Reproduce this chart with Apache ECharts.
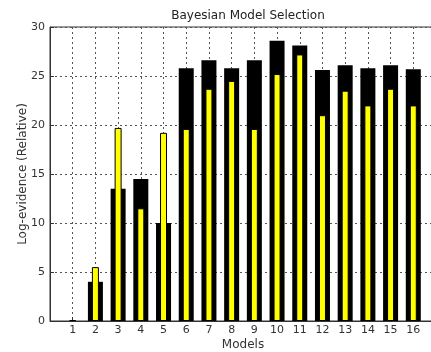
<!DOCTYPE html>
<html>
<head>
<meta charset="utf-8">
<script src="https://cdn.jsdelivr.net/npm/echarts@6/dist/echarts.min.js"></script>
<style>
  html, body { margin: 0; padding: 0; background: #fff; }
  #chart { width: 431px; height: 352px; }
</style>
</head>
<body>
<div id="chart"></div>
<script>
// Model indices and their relative log-evidence from two fits
const models = [1, 2, 3, 4, 5, 6, 7, 8, 9, 10, 11, 12, 13, 14, 15, 16];
const evidenceA = [0, 4.0, 13.5, 14.5, 10.0, 25.8, 26.6, 25.8, 26.6, 28.6, 28.1, 25.6, 26.1, 25.8, 26.1, 25.7];
const evidenceB = [0.1, 5.5, 19.7, 11.5, 19.2, 19.6, 23.7, 24.5, 19.6, 25.2, 27.2, 21.0, 23.5, 22.0, 23.7, 22.0];
const yTicks = [0, 5, 10, 15, 20, 25, 30];

const font = 'DejaVu Sans';
const chart = echarts.init(document.getElementById('chart'));

chart.setOption({
  animation: false,
  backgroundColor: '#fff',
  title: {
    text: 'Bayesian Model Selection',
    left: 243,
    textAlign: 'center',
    top: 5,
    textStyle: { fontFamily: font, fontSize: 12, fontWeight: 'normal', color: '#222' }
  },
  grid: {
    left: 50, right: -5, top: 27, bottom: 31,
    outerBoundsMode: 'none',
    containLabel: false,
    show: true, borderColor: '#333', borderWidth: 1, backgroundColor: 'transparent'
  },
  xAxis: [
    {
      type: 'value',
      min: 0, max: 17, interval: 1,
      name: 'Models',
      nameLocation: 'middle',
      nameGap: 18,
      nameMoveOverlap: false,
      nameTextStyle: { fontFamily: font, fontSize: 12, color: '#333' },
      axisLine: { lineStyle: { color: '#333' } },
      axisTick: { inside: true, length: 4, lineStyle: { color: '#333' } },
      axisLabel: {
        fontFamily: font, fontSize: 11, color: '#333', margin: 4,
        formatter: v => (models.indexOf(v) >= 0 ? String(v) : '')
      },
      splitLine: { show: true, lineStyle: { color: '#555', type: [2, 3], width: 1 } }
    },
    // second, hidden copy of the same scale so the narrow bars sit centred on the wide ones
    { type: 'value', min: 0, max: 17, interval: 1, show: false }
  ],
  yAxis: {
    type: 'value',
    min: yTicks[0], max: yTicks[yTicks.length - 1], interval: 5,
    name: 'Log-evidence (Relative)',
    nameLocation: 'middle',
    nameGap: 21,
    nameMoveOverlap: false,
    nameTextStyle: { fontFamily: font, fontSize: 12, color: '#333' },
    axisLine: { show: true, lineStyle: { color: '#333' } },
    axisTick: { show: true, inside: true, length: 4, lineStyle: { color: '#333' } },
    axisLabel: { fontFamily: font, fontSize: 11, color: '#333', margin: 5 },
    splitLine: { show: true, lineStyle: { color: '#555', type: [2, 3], width: 1 } }
  },
  series: [
    {
      type: 'bar',
      xAxisIndex: 0,
      data: models.map((m, i) => [m, evidenceA[i]]),
      barWidth: 15,
      itemStyle: { color: '#000', borderWidth: 0 }
    },
    {
      type: 'bar',
      xAxisIndex: 1,
      data: models.map((m, i) => [m, evidenceB[i]]),
      barWidth: 7,
      itemStyle: { color: '#ffff00', borderColor: '#000', borderWidth: 1 }
    }
  ]
});
</script>
</body>
</html>
